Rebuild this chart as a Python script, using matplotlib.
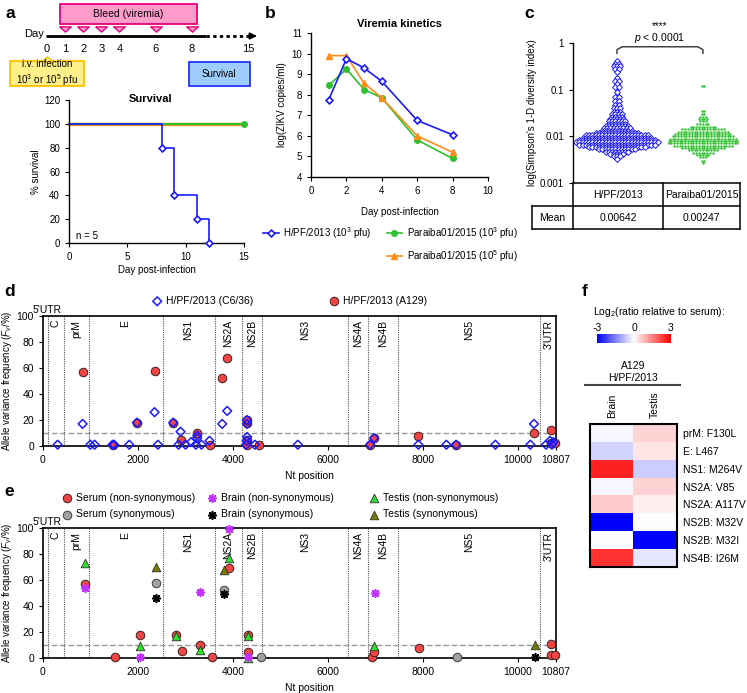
import numpy as np
import matplotlib
matplotlib.use('Agg')
import matplotlib.pyplot as plt
from matplotlib.patches import Rectangle
from matplotlib.colors import LinearSegmentedColormap
from matplotlib.lines import Line2D

plt.rcParams['font.family'] = ['Liberation Sans', 'DejaVu Sans']
plt.rcParams['mathtext.fontset'] = 'custom'
plt.rcParams['mathtext.rm'] = 'Liberation Sans'
plt.rcParams['mathtext.it'] = 'Liberation Sans:italic'
plt.rcParams['axes.unicode_minus'] = False
plt.rcParams['font.size'] = 7
plt.rcParams['axes.linewidth'] = 1.0
plt.rcParams['xtick.major.size'] = 3
plt.rcParams['ytick.major.size'] = 3
plt.rcParams['xtick.labelsize'] = 7
plt.rcParams['ytick.labelsize'] = 7

# ---------------- data ----------------
# a: schedule + survival
bleed_days = [1, 2, 3, 4, 6, 8]
day_ticks = [0, 1, 2, 3, 4, 6, 8]
surv_days_hpf = [0, 8, 9, 11, 12]
surv_hpf = [100, 80, 40, 20, 0]
surv_days_par = [0, 15]
surv_par = [100, 100]

# b: viremia kinetics, log(ZIKV copies/ml)
vir_days = [1, 2, 3, 4, 6, 8]
vir_hpf = [7.75, 9.75, 9.3, 8.65, 6.75, 6.05]
vir_par3 = [8.45, 9.25, 8.25, 7.85, 5.8, 4.9]
vir_par5 = [9.9, 9.9, 8.55, 7.85, 6.0, 5.2]

# c: Simpson's diversity, counts of points per log10 level
strains_c = ['H/PF/2013', 'Paraiba01/2015']
means_c = ['0.00642', '0.00247']
lev_hpf = [-0.38, -0.45, -0.5, -0.55, -0.62, -0.75, -0.82, -0.88, -0.95, -1.05,
           -1.15, -1.25, -1.32, -1.4, -1.47, -1.53, -1.58, -1.63, -1.68, -1.73,
           -1.78, -1.83, -1.88, -1.93, -1.98, -2.03, -2.08, -2.13, -2.18, -2.23,
           -2.28, -2.33, -2.38, -2.43, -2.48]
cnt_hpf = [1, 2, 3, 2, 1, 1, 2, 1, 2, 1, 2, 2, 2, 3, 3, 4, 4, 5, 6, 6,
           8, 9, 10, 14, 20, 22, 24, 26, 24, 18, 12, 8, 5, 3, 1]
lev_par = [-0.92, -1.45, -1.52, -1.58, -1.63, -1.68, -1.73, -1.8, -1.85, -1.9,
           -1.95, -2.0, -2.05, -2.1, -2.15, -2.2, -2.25, -2.3, -2.35, -2.4,
           -2.45, -2.52, -2.58]
cnt_par = [2, 2, 2, 3, 4, 3, 5, 10, 16, 19, 21, 23, 25, 26, 26, 22, 16, 11, 8, 5, 3, 2, 1]

# genome regions (end positions) and names
genome_len = 10807
region_ends = [107, 434, 960, 2518, 3613, 4189, 4610, 6434, 6842, 7470, 10480]
region_names = ['C', 'prM', 'E', 'NS1', 'NS2A', 'NS2B', 'NS3', 'NS4A', 'NS4B', 'NS5', "3'UTR"]

# d: allele frequencies
c636_nt = [308, 834, 996, 1087, 1466, 1500, 1817, 1978, 2350, 2421, 2743, 2856, 2898,
           3003, 3122, 3221, 3248, 3250, 3340, 3508, 3775, 3880, 4280, 4295, 4295,
           4300, 4290, 4463, 5368, 6890, 6975, 7908, 8498, 8700, 9530, 10267, 10343,
           10596, 10680, 10720, 10750]
c636_fv = [1, 17, 1, 1, 1, 1, 1, 18, 26, 1, 18, 1, 11,
           1, 3, 1, 6, 8, 1, 4, 17, 27, 1, 20, 17,
           7, 4, 1, 1, 1, 6, 1, 1, 1, 1, 1, 17,
           1, 4, 1, 3]
a129_nt = [834, 1466, 1978, 2350, 2743, 2898, 3248, 3508, 3775, 3880, 4295, 4295,
           4295, 4290, 4540, 6890, 6975, 7894, 8700, 10343, 10694, 10700, 10785]
a129_fv = [57, 1, 18, 58, 18, 5, 10, 1, 52, 68, 18, 20,
           5, 1, 1, 1, 6, 8, 1, 10, 12, 2, 2]

# e: tissue allele frequencies
serum_ns_nt = [878, 1509, 2036, 2807, 2934, 3298, 3551, 3916, 4316, 4316, 6935, 6970,
               7931, 10703, 10703, 10780]
serum_ns_fv = [57, 1, 18, 18, 5.5, 10, 1, 69, 18, 5, 1, 5, 8, 11, 2, 2]
serum_s_nt = [2387, 3818, 4583, 8730]
serum_s_fv = [58, 52, 1, 1]
brain_ns_nt = [878, 2036, 3298, 3916, 4316, 7003]
brain_ns_fv = [54, 1, 51, 99, 1, 50]
brain_s_nt = [2387, 3818, 10366]
brain_s_fv = [46, 49, 1]
testis_ns_nt = [878, 2036, 2807, 3298, 3916, 4316, 4316, 6970]
testis_ns_fv = [73, 9, 17, 6, 77, 17, 0, 9]
testis_s_nt = [2387, 3818, 10366]
testis_s_fv = [70, 68, 10]

# f: heatmap log2 ratio relative to serum
mutations = ['prM: F130L', 'E: L467', 'NS1: M264V', 'NS2A: V85', 'NS2A: A117V',
             'NS2B: M32V', 'NS2B: M32I', 'NS4B: I26M']
tissues = ['Brain', 'Testis']
brain_ratio = [-0.1, -0.5, 2.6, -0.1, 0.6, -3.0, 0.0, 2.4]
testis_ratio = [0.5, 0.3, -0.6, 0.5, 0.2, 0.0, -3.0, -0.3]

BLUE = '#1a1aff'
GREEN = '#2fbf2f'
ORANGE = '#ff8c1a'
RED = '#f04545'

W, H = 747, 693
fig = plt.figure(figsize=(W / 100, H / 100), dpi=100)


def px_axes(x0, y0, x1, y1):
    return fig.add_axes([x0 / W, 1 - y1 / H, (x1 - x0) / W, (y1 - y0) / H])


def panel_label(x, y, s):
    fig.text(x / W, 1 - y / H, s, fontsize=12.5, fontweight='bold', va='center', ha='left')


# ---------------- a: schedule ----------------
axt = px_axes(0, 0, 260, 95)
ppd = 18.1
axt.set_xlim(-47 / ppd, (260 - 47) / ppd)
axt.set_ylim(95, 0)
axt.axis('off')
axt.plot([-0.05, 8.8], [36, 36], color='k', lw=2, solid_capstyle='butt')
axt.plot([8.8, 11.3], [36, 36], color='k', lw=2, ls=(0, (1.2, 1.2)))
axt.annotate('', xy=(11.75, 36), xytext=(11.2, 36),
             arrowprops=dict(arrowstyle='-|>', color='k', lw=1.5, mutation_scale=9))
axt.text(-0.15, 34, 'Day', ha='right', va='center', fontsize=8)
for d in day_ticks:
    axt.text(d, 49, str(d), ha='center', va='center', fontsize=8)
axt.text((248 - 47) / ppd, 49, '15', ha='center', va='center', fontsize=8)
axt.add_patch(Rectangle((0.72, 4), 8.3 - 0.72, 20, fc='#ff9ccc', ec='#e8007e', lw=1.3))
axt.text(4.5, 14, 'Bleed (viremia)', ha='center', va='center', fontsize=7.5)
flat_down = [(-1, 0.45), (1, 0.45), (0, -0.45), (-1, 0.45)]
flat_up = [(-1, -0.45), (1, -0.45), (0, 0.45), (-1, -0.45)]
axt.scatter(bleed_days, [29] * len(bleed_days), marker=flat_down, s=70,
            fc='#ff9ccc', ec='#e8007e', lw=1)
axt.add_patch(Rectangle((-2.04, 61), 4.08, 25, fc='#fff08a', ec='#ffc000', lw=1.3))
axt.scatter([0], [58.5], marker=flat_up, s=70, fc='#fff08a', ec='#ffc000', lw=1, zorder=3)
axt.text(0, 73.5, 'i.v. infection\n10$^3$ or 10$^5$ pfu', ha='center', va='center',
         fontsize=7, linespacing=1.3)
axt.add_patch(Rectangle((7.85, 62), 3.35, 24, fc='#9fcdfb', ec='#2233ff', lw=1.3))
axt.text(9.52, 74, 'Survival', ha='center', va='center', fontsize=7)

# ---------------- a: survival ----------------
axs = px_axes(69, 100, 244, 243)
axs.plot(surv_days_par, surv_par, color=ORANGE, lw=2.4, clip_on=False)
axs.plot(surv_days_par, surv_par, color=GREEN, lw=1.5, clip_on=False)
axs.plot(surv_days_par[-1:], surv_par[-1:], 'o', color=GREEN, ms=4, clip_on=False)
axs.step(surv_days_hpf, surv_hpf, where='post', color=BLUE, lw=1.2, clip_on=False)
axs.plot(surv_days_hpf[1:], surv_hpf[1:], 'D', ms=3.5, mfc='white', mec=BLUE, mew=1.2,
         clip_on=False, zorder=4)
axs.set_xlim(0, 15)
axs.set_ylim(0, 120)
axs.set_xticks([0, 5, 10, 15])
axs.set_yticks(range(0, 121, 20))
for s in ['top', 'right']:
    axs.spines[s].set_visible(False)
axs.text(7, 120.5, 'Survival', ha='center', va='center', fontsize=8, fontweight='bold')
axs.text(0.6, 6, 'n = 5', fontsize=7, va='center')
axs.set_xlabel('Day post-infection', fontsize=7, labelpad=2)
axs.set_ylabel('% survival', fontsize=7, labelpad=2)

# ---------------- b ----------------
axb = px_axes(311, 33, 488, 177)
lb1, = axb.plot(vir_days, vir_hpf, '-D', color=BLUE, lw=1.2, ms=3.5, mfc='white', mew=1.2, zorder=4)
lb2, = axb.plot(vir_days, vir_par3, '-o', color=GREEN, lw=1.2, ms=4)
lb3, = axb.plot(vir_days, vir_par5, '-^', color=ORANGE, lw=1.2, ms=4)
axb.set_xlim(0, 10)
axb.set_ylim(4, 11)
axb.set_xticks(range(0, 11, 2))
axb.set_yticks(range(4, 12))
for s in ['top', 'right']:
    axb.spines[s].set_visible(False)
axb.set_title('Viremia kinetics', fontsize=8, fontweight='bold', pad=4)
axb.set_xlabel('Day post-infection', fontsize=7, labelpad=8)
axb.set_ylabel('log(ZIKV copies/ml)', fontsize=7, labelpad=3)
blank = Line2D([], [], ls='none')
fig.legend([lb1, blank, lb2, lb3],
           ['H/PF/2013 (10$^3$ pfu)', '', 'Paraiba01/2015 (10$^3$ pfu)', 'Paraiba01/2015 (10$^5$ pfu)'],
           ncol=2, loc='upper left', bbox_to_anchor=(263 / W, 1 - 225 / H), frameon=False,
           fontsize=7, handlelength=1.6, handletextpad=0.5, columnspacing=1.5,
           labelspacing=0.75, borderpad=0, borderaxespad=0)

# ---------------- c ----------------
axc = px_axes(573, 43, 740, 183)
axc.set_yscale('log')
axc.set_ylim(0.001, 1)
axc.set_xlim(-0.511, 1.431)


def swarm(ax, xc, levels, counts, dx, **kw):
    xs, ys = [], []
    for lv, n in zip(levels, counts):
        off = (np.arange(n) - (n - 1) / 2) * dx
        xs.extend(xc + off)
        ys.extend([10 ** lv] * n)
    ax.plot(xs, ys, ls='none', **kw)


swarm(axc, 0, lev_hpf, cnt_hpf, 0.038, marker='D', ms=3.0, mfc='white', mec=BLUE, mew=0.7)
swarm(axc, 1, lev_par, cnt_par, 0.032, marker='o', ms=1.5, mfc=GREEN, mec=GREEN, mew=0.2)
axc.set_yticks([0.001, 0.01, 0.1, 1])
axc.set_yticklabels(['0.001', '0.01', '0.1', '1'])
axc.yaxis.set_minor_locator(matplotlib.ticker.NullLocator())
axc.set_xticks([])
for s in ['top', 'right', 'bottom']:
    axc.spines[s].set_visible(False)
axc.set_ylabel("log(Simpson's 1-D diversity index)", fontsize=7, labelpad=2)
bx = [0, 0.0, 0.06, 0.94, 1.0, 1]
by = [0.6, 0.72, 0.83, 0.83, 0.72, 0.6]
axc.plot(bx, by, color='#333333', lw=1)
axc.text(0.5, 1.25, '$p$ < 0.0001', ha='center', va='center', fontsize=7.5)
axc.text(0.5, 2.3, '****', ha='center', va='center', fontsize=7)

# table
axtab = px_axes(530, 181, 742, 231)
axtab.set_xlim(530, 742)
axtab.set_ylim(231, 181)
axtab.axis('off')
lk = dict(color='k', lw=1.1)
axtab.plot([573, 740], [183, 183], **lk)
axtab.plot([532, 740], [206, 206], **lk)
axtab.plot([532, 740], [229, 229], **lk)
axtab.plot([740, 740], [183, 229], **lk)
axtab.plot([532, 532], [206, 229], **lk)
axtab.plot([573, 573], [183, 229], **lk)
axtab.plot([663, 663], [183, 229], **lk)
for xc, sname, mval in zip([618, 701.5], strains_c, means_c):
    axtab.text(xc, 195, sname, ha='center', va='center', fontsize=7.5)
    axtab.text(xc, 218, mval, ha='center', va='center', fontsize=7.5)
axtab.text(552.5, 218, 'Mean', ha='center', va='center', fontsize=7.5)


# ---------------- d & e common ----------------
def genome_axes(ax):
    ax.set_xlim(0, genome_len)
    ax.set_ylim(0, 100)
    ax.set_xticks([0, 2000, 4000, 6000, 8000, 10000, genome_len])
    ax.set_yticks(range(0, 101, 20))
    for s in ax.spines.values():
        s.set_linewidth(1.2)
    for xe in region_ends:
        ax.axvline(xe, color='#555555', lw=0.8, ls=(0, (1, 1)), zorder=1)
    ax.axhline(10, color='#999999', lw=1, ls=(0, (4, 2)), zorder=1)
    bounds = region_ends + [genome_len]
    for i, name in enumerate(region_names):
        mid = (bounds[i] + bounds[i + 1]) / 2
        ax.text(mid, 97, name, rotation=90, ha='center', va='top', fontsize=7.5, zorder=2)
    ax.text(region_ends[0] / 2 + 30, 101, "5'UTR", ha='center', va='bottom', fontsize=7.5)
    ax.set_xlabel('Nt position', fontsize=7.5)
    ax.xaxis.set_label_coords(0.52, -0.19)
    ax.set_ylabel(r'Allele variance frequency ($\it{F_v}$/%)', fontsize=7, labelpad=2)
    ax.tick_params(labelsize=7.5)


axd = px_axes(43, 316, 556, 446)
genome_axes(axd)
hd2 = axd.scatter(a129_nt, a129_fv, s=38, fc=RED, ec='#402020', lw=0.7, zorder=3, clip_on=False)
hd1 = axd.scatter(c636_nt, c636_fv, s=20, marker='D', fc='none', ec=BLUE, lw=1.1, zorder=4, clip_on=False)
fig.legend([hd1], ['H/PF/2013 (C6/36)'], loc='center left', bbox_to_anchor=(152 / W, 1 - 301 / H),
           frameon=False, fontsize=7.5, handletextpad=0.3, borderpad=0, borderaxespad=0, handlelength=1)
fig.legend([hd2], ['H/PF/2013 (A129)'], loc='center left', bbox_to_anchor=(329 / W, 1 - 301 / H),
           frameon=False, fontsize=7.5, handletextpad=0.3, borderpad=0, borderaxespad=0, handlelength=1)

axe = px_axes(43, 528, 556, 658)
genome_axes(axe)
star = (8, 2, 0)
h1 = axe.scatter(serum_ns_nt, serum_ns_fv, s=38, fc=RED, ec='#402020', lw=0.7, zorder=3, clip_on=False)
h2 = axe.scatter(serum_s_nt, serum_s_fv, s=38, fc='#a0a0a0', ec='#404040', lw=0.7, zorder=3, clip_on=False)
h3 = axe.scatter(brain_ns_nt, brain_ns_fv, s=30, marker=star, color='#c030ff', lw=1.2, zorder=5, clip_on=False)
h4 = axe.scatter(brain_s_nt, brain_s_fv, s=30, marker=star, color='black', lw=1.2, zorder=5, clip_on=False)
h5 = axe.scatter(testis_ns_nt, testis_ns_fv, s=38, marker='^', fc='#2ee02e', ec='#303030', lw=0.6, zorder=4, clip_on=False)
h6 = axe.scatter(testis_s_nt, testis_s_fv, s=38, marker='^', fc='#7a7a00', ec='#303030', lw=0.6, zorder=4, clip_on=False)
for hs, labs, xa in [([h1, h2], ['Serum (non-synonymous)', 'Serum (synonymous)'], 62),
                     ([h3, h4], ['Brain (non-synonymous)', 'Brain (synonymous)'], 207),
                     ([h5, h6], ['Testis (non-synonymous)', 'Testis (synonymous)'], 369)]:
    fig.legend(hs, labs, loc='upper left', bbox_to_anchor=(xa / W, 1 - 493 / H), frameon=False,
               fontsize=7.5, handletextpad=0.3, borderpad=0, borderaxespad=0, handlelength=1,
               labelspacing=0.6)

# ---------------- f ----------------
cmap = LinearSegmentedColormap.from_list('bwr2', ['#0000ff', '#ffffff', '#ff0000'])
axh = px_axes(590, 424, 677, 567)
mat = np.array([brain_ratio, testis_ratio]).T
im = axh.imshow(mat, cmap=cmap, vmin=-3, vmax=3, aspect='auto', interpolation='nearest')
axh.set_xticks(range(len(tissues)))
axh.set_xticklabels(tissues, rotation=90, fontsize=7.5)
axh.xaxis.tick_top()
axh.set_yticks(range(len(mutations)))
axh.set_yticklabels(mutations, fontsize=7.5)
axh.yaxis.tick_right()
axh.tick_params(length=0, pad=4)
for s in axh.spines.values():
    s.set_linewidth(1.5)

axcb = px_axes(597, 334, 671, 343)
cb = fig.colorbar(im, cax=axcb, orientation='horizontal', ticks=[-3, 0, 3])
cb.outline.set_visible(False)
axcb.xaxis.tick_top()
axcb.tick_params(length=0, labelsize=7.5, pad=1)
fig.text(593 / W, 1 - 312 / H, 'Log$_2$(ratio relative to serum):', fontsize=7.5, va='center')
fig.text(633 / W, 1 - 372 / H, 'A129\nH/PF/2013', fontsize=7.5, ha='center', va='center',
         linespacing=1.2)
fig.add_artist(Line2D([585 / W, 680 / W], [1 - 385 / H, 1 - 385 / H], color='#444444', lw=1.5))

panel_label(6, 14, 'a')
panel_label(265, 14, 'b')
panel_label(524, 14, 'c')
panel_label(4, 291, 'd')
panel_label(4, 491, 'e')
panel_label(582, 291, 'f')

fig.savefig('out.png', dpi=100)
